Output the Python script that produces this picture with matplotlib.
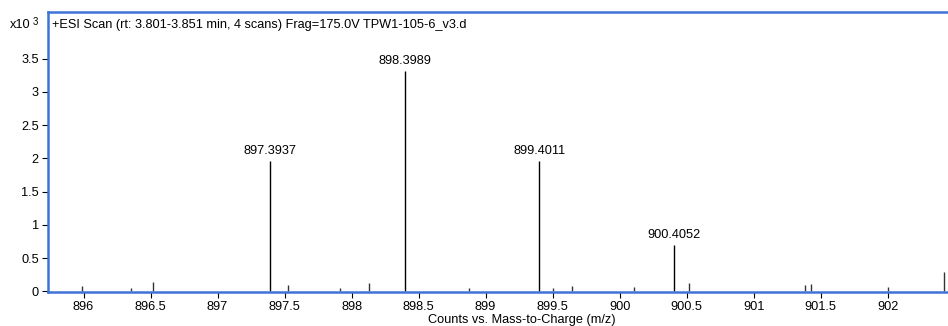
import matplotlib.pyplot as plt

plt.rcParams['font.family'] = ['Liberation Sans', 'DejaVu Sans']

# labelled isotope peaks (m/z, counts x10^3)
PEAK_MZ = [897.3937, 898.3989, 899.4011, 900.4052]
PEAK_COUNTS = [1.96, 3.31, 1.96, 0.69]

# small unlabelled signals
MINOR_MZ = [895.99, 896.355, 896.515, 897.527, 897.915, 898.131, 898.875,
            899.502, 899.644, 900.107, 900.519, 901.38, 901.43, 902.0, 902.418]
MINOR_COUNTS = [0.08, 0.055, 0.145, 0.10, 0.055, 0.12, 0.055,
                0.055, 0.075, 0.07, 0.125, 0.09, 0.105, 0.065, 0.29]

X_TICKS = [896, 896.5, 897, 897.5, 898, 898.5, 899, 899.5, 900, 900.5, 901, 901.5, 902]
Y_TICKS = [0, 0.5, 1, 1.5, 2, 2.5, 3, 3.5]

TITLE = '+ESI Scan (rt: 3.801-3.851 min, 4 scans) Frag=175.0V TPW1-105-6_v3.d'
FRAME_BLUE = '#3f74d6'
FS = 9.2

fig = plt.figure(figsize=(9.48, 3.26), dpi=100)
ax = fig.add_axes([48 / 948, 34 / 326, 1.0, 280 / 326])

ax.vlines(MINOR_MZ, 0, MINOR_COUNTS, color='#333333', linewidth=1.0)
ax.vlines(PEAK_MZ, 0, PEAK_COUNTS, color='black', linewidth=1.0)
for mz, h in zip(PEAK_MZ, PEAK_COUNTS):
    ax.annotate(f'{mz:.4f}', (mz, h), xytext=(0, 3), textcoords='offset points',
                ha='center', va='bottom', fontsize=FS)

ax.set_xlim(895.735, 902.45 + 48 / 134)
ax.set_ylim(-0.01, 4.2)
ax.set_xticks(X_TICKS)
ax.set_xticklabels([f'{t:g}' for t in X_TICKS])
ax.set_yticks(Y_TICKS)
ax.set_yticklabels([f'{t:g}' for t in Y_TICKS])
ax.tick_params(direction='out', length=4, width=0.8, labelsize=FS, pad=2.5, color='black')

for side in ['left', 'top', 'bottom']:
    ax.spines[side].set_color(FRAME_BLUE)
    ax.spines[side].set_linewidth(1.8)
ax.spines['right'].set_visible(False)

ax.set_xlabel('Counts vs. Mass-to-Charge (m/z)', fontsize=FS, labelpad=1)
ax.text(0.004, 0.955, TITLE, transform=ax.transAxes, fontsize=FS, ha='left', va='center')
fig.text(10 / 948, 1 - 25 / 326, 'x10', fontsize=FS, ha='left', va='center')
fig.text(33 / 948, 1 - 22 / 326, '3', fontsize=7, ha='left', va='center')

fig.savefig('out.png', dpi=100)
